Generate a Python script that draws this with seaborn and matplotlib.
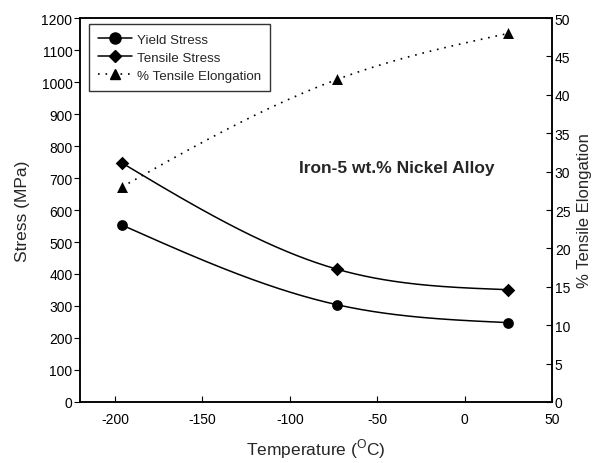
import numpy as np
import matplotlib
matplotlib.use("Agg")
import matplotlib.pyplot as plt
from matplotlib.lines import Line2D
import seaborn as sns

# ── DATA ───────────────────────────────────────────────────
temperature    = [-196, -73, 25]
yield_stress   = [553, 304, 248]
tensile_stress = [747, 415, 351]
elongation     = [28, 42, 48]

stress_ticks = list(range(0, 1201, 100))
elong_ticks  = list(range(0, 51, 5))
temp_ticks   = [-200, -150, -100, -50, 0, 50]


def natural_spline(x, y, n=200):
    # smooth connecting curve through the points (drawing only)
    x = np.asarray(x, float)
    y = np.asarray(y, float)
    h = np.diff(x)
    k = len(x)
    A = np.zeros((k, k))
    b = np.zeros(k)
    A[0, 0] = A[-1, -1] = 1
    for i in range(1, k - 1):
        A[i, i - 1] = h[i - 1]
        A[i, i] = 2 * (h[i - 1] + h[i])
        A[i, i + 1] = h[i]
        b[i] = 6 * ((y[i + 1] - y[i]) / h[i] - (y[i] - y[i - 1]) / h[i - 1])
    M = np.linalg.solve(A, b)
    xs = np.linspace(x[0], x[-1], n)
    idx = np.clip(np.searchsorted(x, xs) - 1, 0, k - 2)
    x0, x1 = x[idx], x[idx + 1]
    hh = x1 - x0
    a = (x1 - xs) / hh
    bb = (xs - x0) / hh
    ys = (a * y[idx] + bb * y[idx + 1]
          + ((a**3 - a) * M[idx] + (bb**3 - bb) * M[idx + 1]) * hh**2 / 6)
    return xs, ys


# ── STYLE ──────────────────────────────────────────────────
sns.set_style("ticks")
plt.rcParams["font.family"] = ["Liberation Sans", "DejaVu Sans"]
plt.rcParams["mathtext.fontset"] = "custom"
plt.rcParams["mathtext.rm"] = "Liberation Sans"
plt.rcParams["axes.unicode_minus"] = False

fig, ax = plt.subplots(figsize=(5.99, 4.64), dpi=100)
fig.subplots_adjust(left=0.1336, right=0.9215, bottom=0.1315, top=0.959)
ax2 = ax.twinx()

# ── STRESS CURVES ──────────────────────────────────────────
for vals, mk in [(yield_stress, "o"), (tensile_stress, "D")]:
    xs, ys = natural_spline(temperature, vals)
    ax.plot(xs, ys, color="black", lw=1.1, zorder=2)
    sns.scatterplot(x=temperature, y=vals, marker=mk, color="black",
                    s=60 if mk == "o" else 48, edgecolor="black",
                    linewidth=0, ax=ax, zorder=3)

# ── ELONGATION (right axis) ────────────────────────────────
xs, ys = natural_spline(temperature, elongation)
ax2.plot(xs, ys, color="black", lw=1.2, linestyle=(0, (1, 3.5)), zorder=2)
sns.scatterplot(x=temperature, y=elongation, marker="^", color="black",
                s=62, edgecolor="black", linewidth=0, ax=ax2, zorder=3)

# ── AXES ───────────────────────────────────────────────────
ax.set_xlim(-220, 50)
ax.set_ylim(0, 1200)
ax2.set_ylim(0, 50)
ax.set_xticks(temp_ticks)
ax.set_yticks(stress_ticks)
ax2.set_yticks(elong_ticks)

ax.tick_params(axis="x", direction="in", length=4, width=0.8,
               labelsize=10, pad=7, colors="black")
ax.tick_params(axis="y", direction="out", length=4, width=0.8,
               labelsize=10, pad=1.5, colors="black")
ax2.tick_params(axis="y", direction="in", length=4, width=0.8,
                labelsize=10, pad=2, colors="black")

for a in (ax, ax2):
    for spine in a.spines.values():
        spine.set_visible(True)
        spine.set_color("black")
        spine.set_linewidth(1.1)

ax.set_xlabel(r"Temperature ($^{\mathrm{O}}$C)", fontsize=12.5, labelpad=8)
ax.set_ylabel("Stress (MPa)", fontsize=12.5, labelpad=8)
ax2.set_ylabel("% Tensile Elongation", fontsize=12, labelpad=5)

ax.text(0.672, 0.612, "Iron-5 wt.% Nickel Alloy", transform=ax.transAxes,
        ha="center", va="center", fontsize=12.5, fontweight="bold")

# ── LEGEND ─────────────────────────────────────────────────
handles = [
    Line2D([], [], color="black", lw=1.1, marker="o", ms=8),
    Line2D([], [], color="black", lw=1.1, marker="D", ms=6.5),
    Line2D([], [], color="black", lw=1.2, linestyle=(0, (1, 3.5)),
           marker="^", ms=7.5),
]
labels = ["Yield Stress", "Tensile Stress", "% Tensile Elongation"]
leg = ax.legend(handles, labels, loc="upper left",
                bbox_to_anchor=(0.019, 0.984), borderaxespad=0,
                fontsize=9.6, frameon=True, fancybox=False,
                handlelength=2.5, handletextpad=0.4, labelspacing=0.42,
                borderpad=0.7)
leg.get_frame().set_edgecolor("black")
leg.get_frame().set_linewidth(1.0)
leg.set_zorder(5)

plt.savefig("out.png", dpi=100)
